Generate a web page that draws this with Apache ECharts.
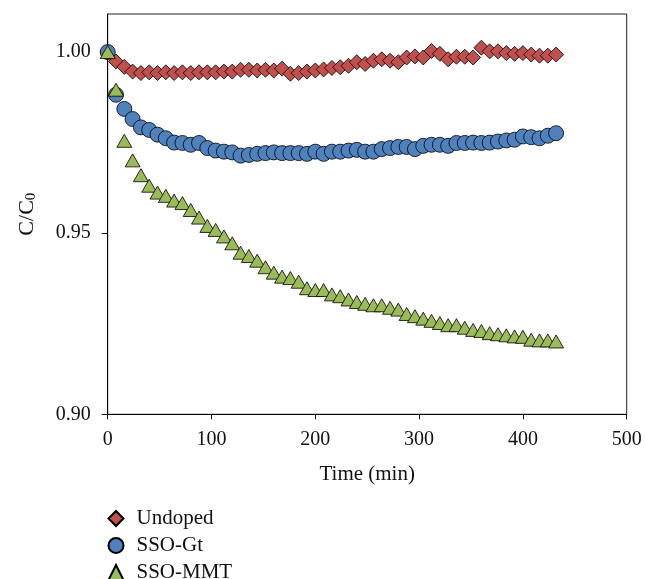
<!DOCTYPE html>
<html>
<head>
<meta charset="utf-8">
<script src="https://cdn.jsdelivr.net/npm/echarts@6/dist/echarts.min.js"></script>
<style>html,body{margin:0;padding:0;background:#fff}#c{width:645px;height:579px}</style>
</head>
<body>
<div id="c"></div>
<script>
var times = [0,8,16,24,32,40,48,56,64,72,80,88,96,104,112,120,128,136,144,152,160,168,176,184,192,200,208,216,224,232,240,248,256,264,272,280,288,296,304,312,320,328,336,344,352,360,368,376,384,392,400,408,416,424,432];
var undoped = [1.000,0.9974,0.9959,0.9946,0.9942,0.9944,0.9942,0.9944,0.9942,0.9944,0.9942,0.9944,0.9944,0.9944,0.9946,0.9946,0.9951,0.9951,0.9949,0.9951,0.9949,0.9954,0.9940,0.9942,0.9946,0.9949,0.9952,0.9956,0.9958,0.9962,0.9972,0.9967,0.9976,0.9980,0.9976,0.9972,0.9985,0.9988,0.9985,1.0003,0.9995,0.9980,0.9987,0.9987,0.9985,1.0012,1.0002,1.0002,0.9997,0.9995,0.9997,0.9993,0.9990,0.9990,0.9993];
var ssoGt = [1.000,0.9882,0.9843,0.9815,0.9792,0.9785,0.9772,0.9762,0.9750,0.9749,0.9744,0.9749,0.9735,0.9728,0.9725,0.9723,0.9714,0.9716,0.9719,0.9721,0.9723,0.9721,0.9721,0.9721,0.9719,0.9725,0.9719,0.9725,0.9725,0.9728,0.9730,0.9725,0.9725,0.9732,0.9735,0.9738,0.9738,0.9732,0.9741,0.9744,0.9744,0.9741,0.9749,0.9749,0.9750,0.9749,0.9750,0.9753,0.9756,0.9758,0.9767,0.9765,0.9762,0.9769,0.9776];
var ssoMmt = [1.000,0.9896,0.9755,0.9701,0.9660,0.9631,0.9612,0.9603,0.9590,0.9583,0.9564,0.9543,0.9520,0.9509,0.9491,0.9472,0.9446,0.9437,0.9424,0.9406,0.9391,0.9380,0.9376,0.9366,0.9348,0.9343,0.9343,0.9331,0.9326,0.9317,0.9310,0.9305,0.9301,0.9301,0.9294,0.9289,0.9277,0.9271,0.9264,0.9258,0.9252,0.9246,0.9246,0.9239,0.9233,0.9230,0.9224,0.9221,0.9218,0.9215,0.9214,0.9206,0.9204,0.9204,0.9201];
var seriesNames = ['Undoped','SSO-Gt','SSO-MMT'];
var yTicks = [0.90,0.95,1.00];

function pairs(vals){ return times.map(function(t,i){ return [t, vals[i]]; }); }

var font = 'Liberation Serif';
var chart = echarts.init(document.getElementById('c'));
chart.setOption({
  animation: false,
  textStyle: {fontFamily: font},
  grid: {left: 107.7, right: 18.3, top: 14, bottom: 164.7, show: true, borderColor: '#222', borderWidth: 1, backgroundColor: 'transparent'},
  legend: {
    orient: 'vertical', left: 107.5, top: 508, height: 100, padding: 0, itemGap: 6, itemWidth: 15, itemHeight: 15,
    data: seriesNames,
    textStyle: {fontFamily: font, fontSize: 21, color: '#111', lineHeight: 20, padding: [0,0,0,8]}
  },
  xAxis: {
    type: 'value', min: 0, max: 500, interval: 100,
    name: 'Time (min)', nameLocation: 'middle', nameGap: 50,
    nameTextStyle: {fontFamily: font, fontSize: 21, color: '#111'},
    axisLine: {show: true, lineStyle: {color: '#000', width: 1}},
    axisTick: {show: true, inside: false, length: 5, lineStyle: {color: '#000'}},
    axisLabel: {fontFamily: font, fontSize: 20, color: '#111', margin: 15},
    splitLine: {show: false}
  },
  yAxis: {
    type: 'value', min: 0.90, max: 1.0105, interval: 0.05,
    name: '{a|C/C}{s|0}', nameLocation: 'middle', nameGap: 69, nameRotate: 90,
    nameTextStyle: {rich: {a: {fontFamily: font, fontSize: 22, color: '#111'}, s: {fontFamily: font, fontSize: 15, color: '#111', verticalAlign: 'bottom', padding: [8,0,0,0]}}},
    axisLine: {show: true, lineStyle: {color: '#000', width: 1}},
    axisTick: {show: true, inside: false, length: 6, customValues: yTicks, lineStyle: {color: '#000'}},
    axisLabel: {fontFamily: font, fontSize: 20, color: '#111', margin: 17, customValues: yTicks, formatter: function(v){ return v.toFixed(2); }},
    splitLine: {show: false}
  },
  series: [
    {name: seriesNames[0], type: 'scatter', data: pairs(undoped), symbol: 'diamond', symbolSize: [15,15],
     itemStyle: {color: '#C0504D', borderColor: '#000', borderWidth: 0.8, opacity: 1}},
    {name: seriesNames[1], type: 'scatter', data: pairs(ssoGt), symbol: 'circle', symbolSize: 15,
     itemStyle: {color: '#4F81BD', borderColor: '#000', borderWidth: 0.8, opacity: 1}},
    {name: seriesNames[2], type: 'scatter', data: pairs(ssoMmt), symbol: 'triangle', symbolSize: [15,13],
     itemStyle: {color: '#9BBB59', borderColor: '#000', borderWidth: 0.8, opacity: 1}}
  ]
});
</script>
</body>
</html>
